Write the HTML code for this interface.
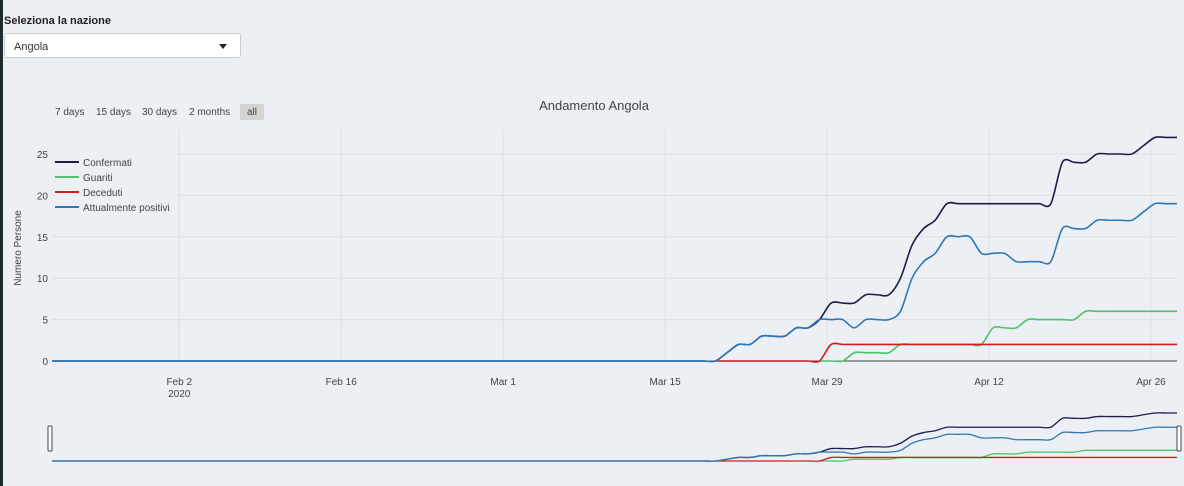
<!DOCTYPE html>
<html><head><meta charset="utf-8">
<style>
body{margin:0;width:1184px;height:486px;background:#eceff3;font-family:"Liberation Sans",sans-serif;overflow:hidden;position:relative}
#strip{position:absolute;left:0;top:0;width:3px;height:486px;background:#1f2a30}
#lbl{position:absolute;left:4px;top:15px;font-size:11px;font-weight:bold;color:#222}
#sel{position:absolute;left:4px;top:33px;width:237px;height:25px;background:#fff;border:1px solid #ccc;border-radius:3px;box-sizing:border-box;font-size:11px;color:#333;padding:7px 0 0 9px}
#sel .arr{position:absolute;right:13px;top:10px;width:0;height:0;border-left:4px solid transparent;border-right:4px solid transparent;border-top:5px solid #222}
</style></head><body>
<div id="strip"></div>
<div id="lbl">Seleziona la nazione</div>
<div id="sel">Angola<span class="arr"></span></div>
<svg id="chart" width="1184" height="486" style="position:absolute;left:0;top:0" font-family="Liberation Sans, sans-serif"></svg>
<script>
const startDate=Date.UTC(2020,0,22), endDate=Date.UTC(2020,3,28,6);
const dates=[];for(let d=Date.UTC(2020,0,22);d<=Date.UTC(2020,3,28);d+=86400000)dates.push(d);
// values from Mar 19 onward (earlier days are 0)
const confTail=[0,1,2,2,3,3,3,4,4,5,7,7,7,8,8,8,10,14,16,17,19,19,19,19,19,19,19,19,19,19,24,24,24,25,25,25,25,26,27,27,27];
const recTail =[0,0,0,0,0,0,0,0,0,0,0,0,1,1,1,1,2,2,2,2,2,2,2,2,4,4,4,5,5,5,5,5,6,6,6,6,6,6,6,6,6];
const deathTail=[0,0,0,0,0,0,0,0,0,0,2,2,2,2,2,2,2,2,2,2,2,2,2,2,2,2,2,2,2,2,2,2,2,2,2,2,2,2,2,2,2];
const actTail =[0,1,2,2,3,3,3,4,4,5,5,5,4,5,5,5,6,10,12,13,15,15,15,13,13,13,12,12,12,12,16,16,16,17,17,17,17,18,19,19,19];
const yTicks=[0,5,10,15,20,25];
const xTickDates=[[2020,1,2,"Feb 2","2020"],[2020,1,16,"Feb 16"],[2020,2,1,"Mar 1"],[2020,2,15,"Mar 15"],[2020,2,29,"Mar 29"],[2020,3,12,"Apr 12"],[2020,3,26,"Apr 26"]];
const tailStart=dates.length-confTail.length;
function full(t){return dates.map((d,i)=>i<tailStart?0:t[i-tailStart]);}
const series=[
 {name:"Confermati",color:"#1d1d4a",vals:full(confTail),from:0},
 {name:"Guariti",color:"#4cc36c",vals:full(recTail),from:tailStart+9},
 {name:"Deceduti",color:"#d41c1c",vals:full(deathTail),from:tailStart},
 {name:"Attualmente positivi",color:"#2f78b8",vals:full(actTail),from:0}];
const X0=52,X1=1177,Y0=361,Y25=154;
const x=d=>X0+(d-startDate)/(endDate-startDate)*(X1-X0)+4;
const y=v=>Y0-(Y0-Y25)*v/25;
const my=v=>461-v*48/27;
const svg=document.getElementById('chart');const NS="http://www.w3.org/2000/svg";
function el(t,a,p){const e=document.createElementNS(NS,t);for(const k in a)e.setAttribute(k,a[k]);(p||svg).appendChild(e);return e;}
function spline(pts){let d=`M${pts[0][0]},${pts[0][1]}`;for(let i=0;i<pts.length-1;i++){const p0=pts[i-1]||pts[i],p1=pts[i],p2=pts[i+1],p3=pts[i+2]||p2;const t=0.15;d+=` C${p1[0]+(p2[0]-p0[0])*t},${p1[1]+(p2[1]-p0[1])*t} ${p2[0]-(p3[0]-p1[0])*t},${p2[1]-(p3[1]-p1[1])*t} ${p2[0]},${p2[1]}`;}return d;}
const xt=d=>X0+(d-startDate)/(endDate-startDate)*(X1-X0);
// grid
yTicks.forEach(v=>{if(v>0){const g=el('line',{x1:X0,x2:X1,y1:y(v),y2:y(v),stroke:'#dde0e4'});}
 const t=el('text',{x:48,y:y(v)+4,'text-anchor':'end','font-size':10,fill:'#444'});t.textContent=v;});
xTickDates.forEach(a=>{const xx=xt(Date.UTC(a[0],a[1],a[2]));const g=el('line',{x1:xx,x2:xx,y1:130,y2:Y0,stroke:'#dde0e4'});
 const t=el('text',{x:xx,y:385,'text-anchor':'middle','font-size':10,fill:'#444'});t.textContent=a[3];
 if(a[4]){const t2=el('text',{x:xx,y:397,'text-anchor':'middle','font-size':10,fill:'#444'});t2.textContent=a[4];}});
const zl=el('line',{x1:X0,x2:X1,y1:Y0,y2:Y0,stroke:'#444'});
series.forEach(s=>{const pts=[],mp=[];for(let i=s.from;i<dates.length;i++){pts.push([Math.min(X1,x(dates[i])),y(s.vals[i])]);mp.push([Math.min(X1,x(dates[i])),my(s.vals[i])]);}
 if(s.from===0){pts[0][0]=X0;mp[0][0]=X0;}
 const p=el('path',{d:spline(pts),fill:'none',stroke:s.color,'stroke-width':1.6});
 const m=el('path',{d:spline(mp),fill:'none',stroke:s.color,'stroke-width':1.3});});
// legend
const lg=el('rect',{x:53,y:153,width:124,height:60,fill:'#eceff3'});
series.forEach((s,i)=>{const yy=162+i*15;const l=el('line',{x1:55,x2:79,y1:yy,y2:yy,stroke:s.color,'stroke-width':2});
 const t=el('text',{x:83,y:yy+4,'font-size':10,fill:'#444'});t.textContent=s.name;});
// title & axis title
const ti=el('text',{x:594,y:110,'text-anchor':'middle','font-size':13,fill:'#444'});ti.textContent="Andamento Angola";
const yt=el('text',{x:21,y:248,'text-anchor':'middle','font-size':10,fill:'#444',transform:'rotate(-90 21 248)'});yt.textContent="Numero Persone";
// range buttons
[["7 days",55],["15 days",96],["30 days",142],["2 months",189],["all",241]].forEach((b,i)=>{if(b[0]==="all"){const r=el('rect',{x:240,y:104,width:24,height:16,fill:'#d4d4d4',rx:1});}
 const t=el('text',{x:b[0]==="all"?247:b[1],y:115,'font-size':10,fill:'#444'});t.textContent=b[0];});
// rangeslider handles
[[48],[1177]].forEach(a=>{const r=el('rect',{x:a[0],y:426,width:4,height:25,fill:'#fff',stroke:'#444','stroke-width':1,rx:1});});
</script>
</body></html>
